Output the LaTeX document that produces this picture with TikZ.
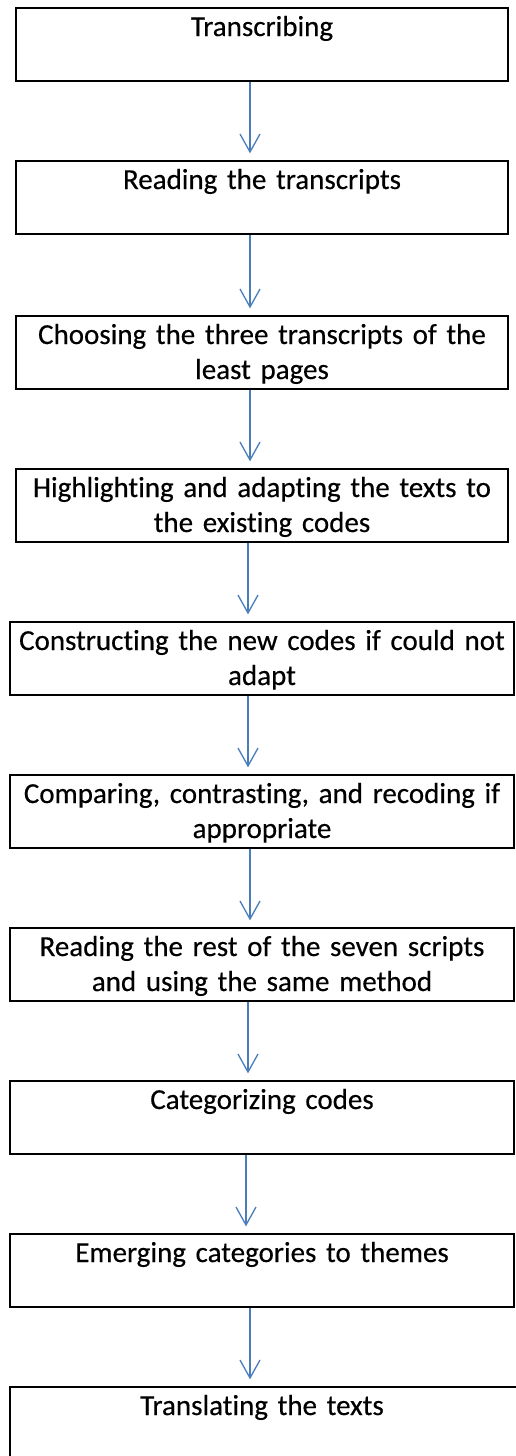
\documentclass[tikz,border=0pt]{standalone}
\usepackage{fontspec}
\setmainfont{Carlito}[Ligatures=NoCommon, WordSpace=0.75, FakeBold=0.4]
\usepackage{xcolor}
\usepackage{tikz}
\usetikzlibrary{arrows.meta}
\tikzstyle{stepbox} = [rectangle, draw, line width=1.3pt, align=center, inner sep=0pt, minimum height=73pt, text height=28pt, text depth=45pt, font=\fontsize{29}{35}\selectfont]
\tikzstyle{narrowbox} = [stepbox, text width=478pt, minimum width=492pt]
\tikzstyle{widebox} = [stepbox, text width=490pt, minimum width=504pt]
\tikzstyle{flow} = [draw, flowblue, line width=1.3pt, -{Straight Barb[length=18pt, width=20pt, line width=1.3pt]}, shorten >=7pt]
\definecolor{flowblue}{HTML}{4A7EBB}

\begin{document}
\begin{tikzpicture}[x=1pt, y=-1pt]
    \useasboundingbox (0, 0) rectangle (515, 1456);

    \node[narrowbox] at (262, 44.5) (transcribe) {Transcribing};
    \node[narrowbox] at (262, 197.5) (readall) {Reading the transcripts};
    \node[narrowbox] at (262, 352.5) (choose) {Choosing the three transcripts of the\\least pages};
    \node[narrowbox] at (262, 505.5) (highlight) {Highlighting and adapting the texts to\\the existing codes};
    \node[widebox] at (262, 658.5) (construct) {Constructing the new codes if could not\\adapt};
    \node[widebox] at (262, 811.5) (compare) {Comparing, contrasting, and recoding if\\appropriate};
    \node[widebox] at (262, 964.5) (readrest) {Reading the rest of the seven scripts\\and using the same method};
    \node[widebox] at (262, 1117.5) (categorize) {Categorizing codes};
    \node[widebox] at (262, 1270.5) (emerge) {Emerging categories to themes};
    \node[stepbox, text width=506pt, minimum width=520pt] at (270, 1423.5) (translate) {\hspace*{-16pt}Translating the texts};

    \path[flow] ([xshift=-12pt]transcribe.south) -- ([xshift=-12pt]readall.north);
    \path[flow] ([xshift=-12pt]readall.south) -- ([xshift=-12pt]choose.north);
    \path[flow] ([xshift=-12pt]choose.south) -- ([xshift=-12pt]highlight.north);
    \path[flow] ([xshift=-14pt]highlight.south) -- ([xshift=-14pt]construct.north);
    \path[flow] ([xshift=-14pt]construct.south) -- ([xshift=-14pt]compare.north);
    \path[flow] ([xshift=-12pt]compare.south) -- ([xshift=-12pt]readrest.north);
    \path[flow] ([xshift=-14pt]readrest.south) -- ([xshift=-14pt]categorize.north);
    \path[flow] ([xshift=-16pt]categorize.south) -- ([xshift=-16pt]emerge.north);
    \path[flow] ([xshift=-12pt]emerge.south) -- ([xshift=-20pt]translate.north);

\end{tikzpicture}
\end{document}
